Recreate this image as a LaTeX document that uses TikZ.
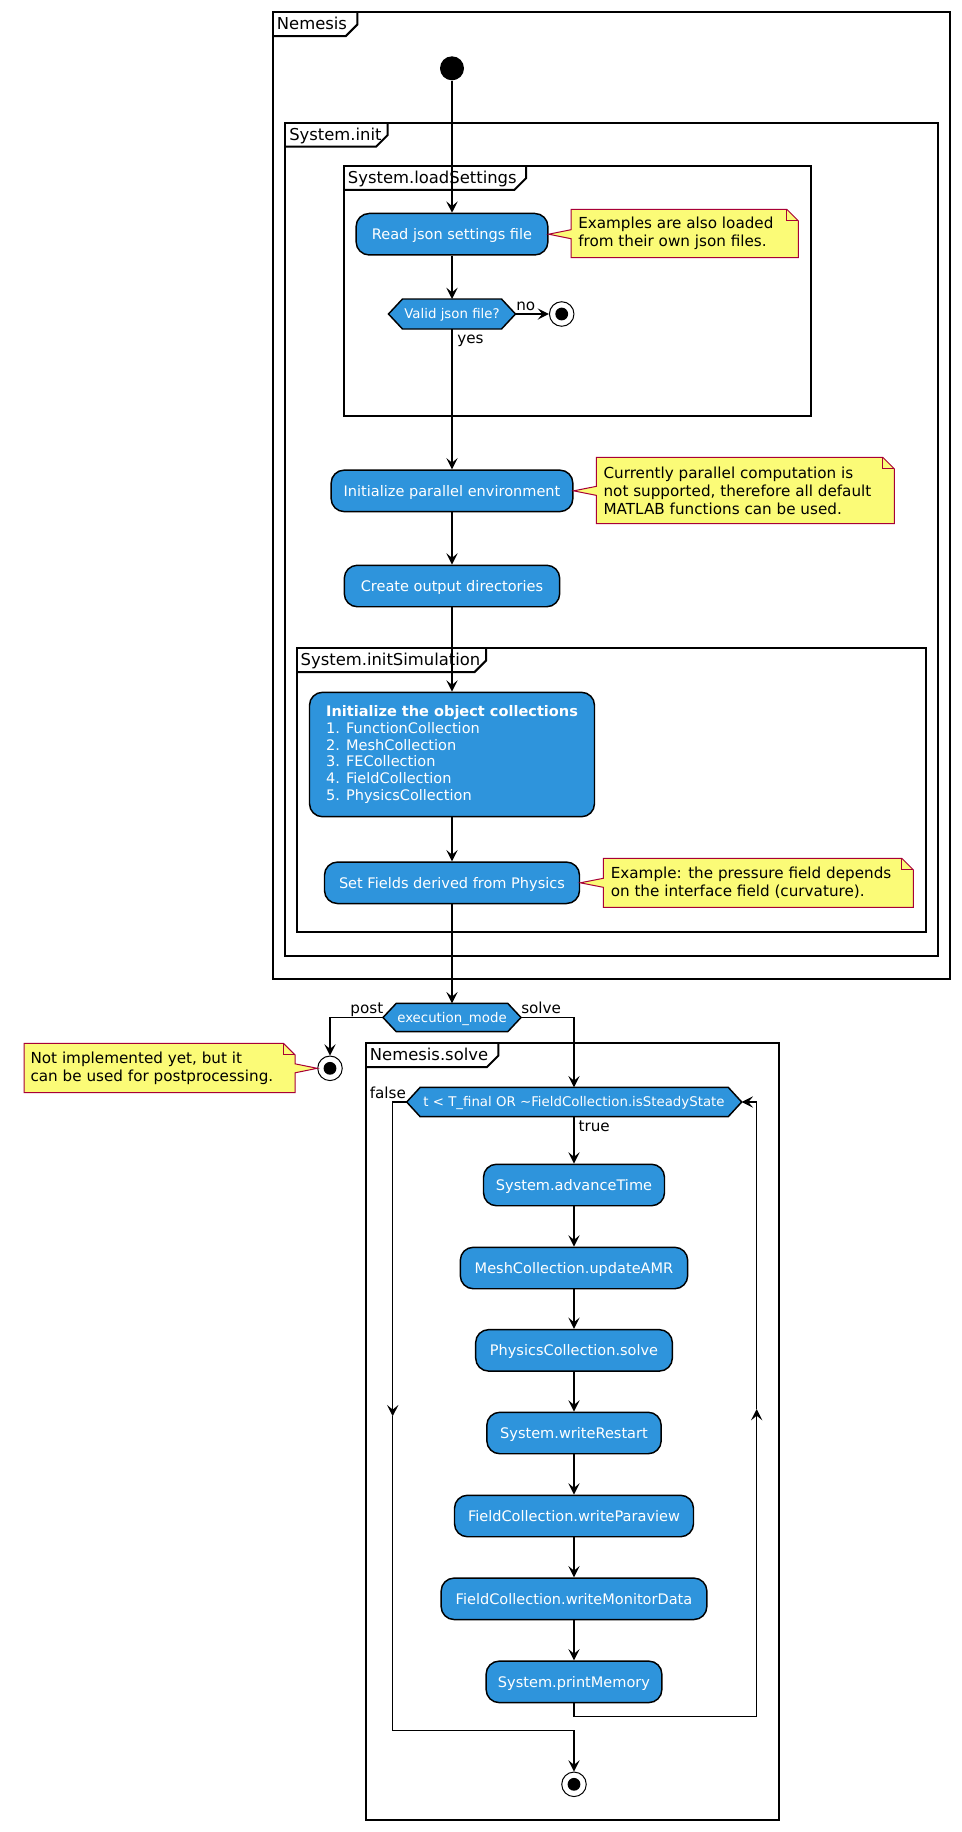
\documentclass[tikz,border=0pt]{standalone}
\usepackage{fontspec}
\setmainfont{DejaVu Sans}
\usetikzlibrary{arrows.meta,calc}
\definecolor{actblue}{RGB}{46,148,220}
\definecolor{notefill}{RGB}{251,251,119}
\definecolor{noteline}{RGB}{168,0,54}
\newcommand\actfont{\fontsize{10.9pt}{12.5pt}\selectfont}
\newcommand\decfont{\fontsize{10pt}{12pt}\selectfont}
\newcommand\notefont{\fontsize{11.4pt}{13.5pt}\selectfont}
\newcommand\framefont{\fontsize{12.3pt}{14pt}\selectfont}
% name, label, L, T, R, B, tabR
\newcommand\umlframe[7]{%
  \draw[frameline] (#3,#4) rectangle (#5,#6);
  \draw[frameline] ($(#3,#4)+(0,23.8)$) -- ($(#7,#4)+(-11.5,23.8)$) -- ($(#7,#4)+(0,12.3)$) -- (#7,#4);
  \node[framelabel] (#1) at ($(#3,#4)+(3.7,17.6)$) {#2};
}
% note with tail on the left edge: L, T, R, B, cy, tip
\newcommand\umlnote[6]{%
  \filldraw[notebox] (#1,#2) -- ($(#3,#2)+(-11.5,0)$) -- ($(#3,#2)+(0,11.5)$) -- (#3,#4) -- (#1,#4)
     -- ($(#1,#5)+(0,4.5)$) -- (#6) -- ($(#1,#5)+(0,-4.5)$) -- cycle;
  \draw[notefold] ($(#3,#2)+(-11.5,0)$) -- ($(#3,#2)+(-11.5,11.5)$) -- ($(#3,#2)+(0,11.5)$);
}
% note with tail on the right edge: L, T, R, B, cy, tip
\newcommand\umlnoteR[6]{%
  \filldraw[notebox] (#1,#2) -- ($(#3,#2)+(-11.5,0)$) -- ($(#3,#2)+(0,11.5)$) -- ($(#3,#5)+(0,-4.5)$)
     -- (#6) -- ($(#3,#5)+(0,4.5)$) -- (#3,#4) -- (#1,#4) -- cycle;
  \draw[notefold] ($(#3,#2)+(-11.5,0)$) -- ($(#3,#2)+(-11.5,11.5)$) -- ($(#3,#2)+(0,11.5)$);
}
\begin{document}
\begin{tikzpicture}[x=0.75pt,y=-0.75pt,
  actbox/.style={draw=black,line width=1.1pt,fill=actblue,rounded corners=9.75pt,text=white,font=\actfont,minimum height=31.1pt,inner sep=0pt},
  act/.style={actbox,minimum width=#1,text height=7.9pt,text depth=0pt},
  dectext/.style={text=white,font=\decfont,inner sep=0pt,text height=7.3pt,text depth=0pt},
  decshape/.style={draw=black,line width=1.1pt,fill=actblue},
  frameline/.style={draw=black,line width=1.5pt},
  framelabel/.style={anchor=base west,inner sep=0pt,font=\framefont},
  notebox/.style={fill=notefill,draw=noteline,line width=0.75pt},
  notefold/.style={draw=noteline,line width=0.75pt},
  notetext/.style={anchor=west,inner sep=0pt,align=left,font=\notefont},
  lbl/.style={inner sep=0pt,font=\notefont},
  flow/.style={draw=black,line width=1.1pt},
  arr/.style={flow,-{Stealth[length=8.5pt,width=8.5pt,inset=3.5pt]}},
  startc/.style={circle,fill=black,minimum size=18pt,inner sep=0pt},
  endc/.style={circle,draw=black,line width=0.75pt,fill=white,minimum size=18.4pt,inner sep=0pt}
]
\useasboundingbox[fill=white] (0,0) rectangle (961,1832);

% frames
\umlframe{fNem}{Nemesis}{273}{12.3}{950}{979.3}{357.3}
\umlframe{fInit}{System.init}{285.3}{122.7}{937.7}{955.7}{387.7}
\umlframe{fLoad}{System.loadSettings}{344}{166}{811}{415.7}{526}
\umlframe{fSim}{System.initSimulation}{296.7}{648.3}{925.7}{931.7}{486}
\umlframe{fSolve}{Nemesis.solve}{366}{1043.3}{778.5}{1820}{498.3}

% start
\node[startc] (s0) at (452,68.3) {};

% upper activities
\node[act=143.8pt] (a1) at (452,234.2) {Read json settings file};
\draw[decshape] (388.5,314) -- (402.5,299) -- (501.5,299) -- (515.5,314) -- (501.5,329) -- (402.5,329) -- cycle;
\node[dectext] (d1) at (452,314) {Valid json file?};
\coordinate (d1n) at (452,299);
\coordinate (d1s) at (452,329);
\coordinate (d1e) at (515.5,314);
\node[endc] (e1) at (561.7,314) {};
\fill (e1.center) circle (4.8pt);

\node[act=181.3pt] (a2) at (452,490.85) {Initialize parallel environment};
\node[act=161.5pt] (a3) at (452,586) {Create output directories};
\node[actbox,minimum width=213.75pt,minimum height=93.3pt,align=left] (a4) at (452,754.5)
  {{\bfseries Initialize the object collections}\\1. FunctionCollection\\2. MeshCollection\\3. FECollection\\4. FieldCollection\\5. PhysicsCollection};
\node[act=191.25pt] (a5) at (452,882.8) {Set Fields derived from Physics};

% execution mode
\draw[decshape] (383,1017.5) -- (396.3,1003.3) -- (507.7,1003.3) -- (521,1017.5) -- (507.7,1031.7) -- (396.3,1031.7) -- cycle;
\node[dectext] (d2) at (452,1017.5) {execution\_mode};
\coordinate (d2n) at (452,1003.3);
\coordinate (d2w) at (383,1017.5);
\coordinate (d2e) at (521,1017.5);
\node[endc] (e2) at (330,1068.3) {};
\fill (e2.center) circle (4.8pt);

% loop
\draw[decshape] (406.7,1102) -- (420.2,1087.3) -- (728.2,1087.3) -- (741.7,1102) -- (728.2,1116.7) -- (420.2,1116.7) -- cycle;
\node[dectext] (d3) at (574,1102) {t < T\_final OR \textasciitilde FieldCollection.isSteadyState};
\coordinate (d3n) at (574,1087.3);
\coordinate (d3s) at (574,1116.7);
\coordinate (d3w) at (406.7,1102);
\coordinate (d3e) at (741.7,1102);

\node[act=135.75pt] (b1) at (574,1185) {System.advanceTime};
\node[act=170.5pt] (b2) at (574,1268) {MeshCollection.updateAMR};
\node[act=147.5pt] (b3) at (574,1350.35) {PhysicsCollection.solve};
\node[act=130.8pt] (b4) at (574,1433) {System.writeRestart};
\node[act=179.25pt] (b5) at (574,1516) {FieldCollection.writeParaview};
\node[act=199.3pt] (b6) at (574,1598.8) {FieldCollection.writeMonitorData};
\node[act=131.8pt] (b7) at (574,1681.85) {System.printMemory};
\node[endc] (e3) at (574,1784.3) {};
\fill (e3.center) circle (4.8pt);

% notes
\umlnote{571}{209.3}{798.3}{257.7}{234.2}{a1.east}
\node[notetext] (n1) at (578,233.5) {Examples are also loaded\\from their own json files.};
\umlnote{596.3}{457.3}{894.3}{523.7}{490.85}{a2.east}
\node[notetext] (n2) at (603.3,490.5) {Currently parallel computation is\\not supported, therefore all default\\MATLAB functions can be used.};
\umlnote{603.3}{858.3}{913.3}{907.3}{882.8}{a5.east}
\node[notetext] (n3) at (610.5,882.8) {Example: the pressure field depends\\on the interface field (curvature).};
\umlnoteR{24}{1043.3}{295}{1092.7}{1068.3}{e2.west}
\node[notetext] (n4) at (30.3,1068) {Not implemented yet, but it\\can be used for postprocessing.};

% connectors
\draw[arr] (s0) -- (a1);
\draw[arr] (a1) -- (d1n);
\draw[arr] (d1e) -- (e1);
\draw[arr] (d1s) -- (a2);
\draw[arr] (a2) -- (a3);
\draw[arr] (a3) -- (a4);
\draw[arr] (a4) -- (a5);
\draw[arr] (a5) -- (d2n);
\draw[arr] (d2w) -| (e2);
\draw[arr] (d2e) -| (d3n);
\draw[arr] (d3s) -- (b1);
\draw[arr] (b1) -- (b2);
\draw[arr] (b2) -- (b3);
\draw[arr] (b3) -- (b4);
\draw[arr] (b4) -- (b5);
\draw[arr] (b5) -- (b6);
\draw[arr] (b6) -- (b7);
\coordinate (lpR) at (756.7,1409);
\coordinate (lpL) at (392.7,1416.3);
\draw[arr] (b7.south) -- ++(0,13.3) -| (lpR);
\draw[arr] (lpR) |- (d3e);
\draw[arr] (d3w) -| (lpL);
\draw[arr] (lpL) |- ($(e3)+(0,-53.6)$) -- (e3);

% labels
\node[lbl,anchor=base west] (lno) at (516,310.7) {no};
\node[lbl,anchor=base west] (lyes) at (457,343.5) {yes};
\node[lbl,anchor=base east] (lpost) at (383.5,1013.3) {post};
\node[lbl,anchor=base west] (lsolve) at (521,1013.3) {solve};
\node[lbl,anchor=base east] (lfalse) at (406.2,1098.3) {false};
\node[lbl,anchor=base west] (ltrue) at (578.3,1131.7) {true};
\end{tikzpicture}
\end{document}
